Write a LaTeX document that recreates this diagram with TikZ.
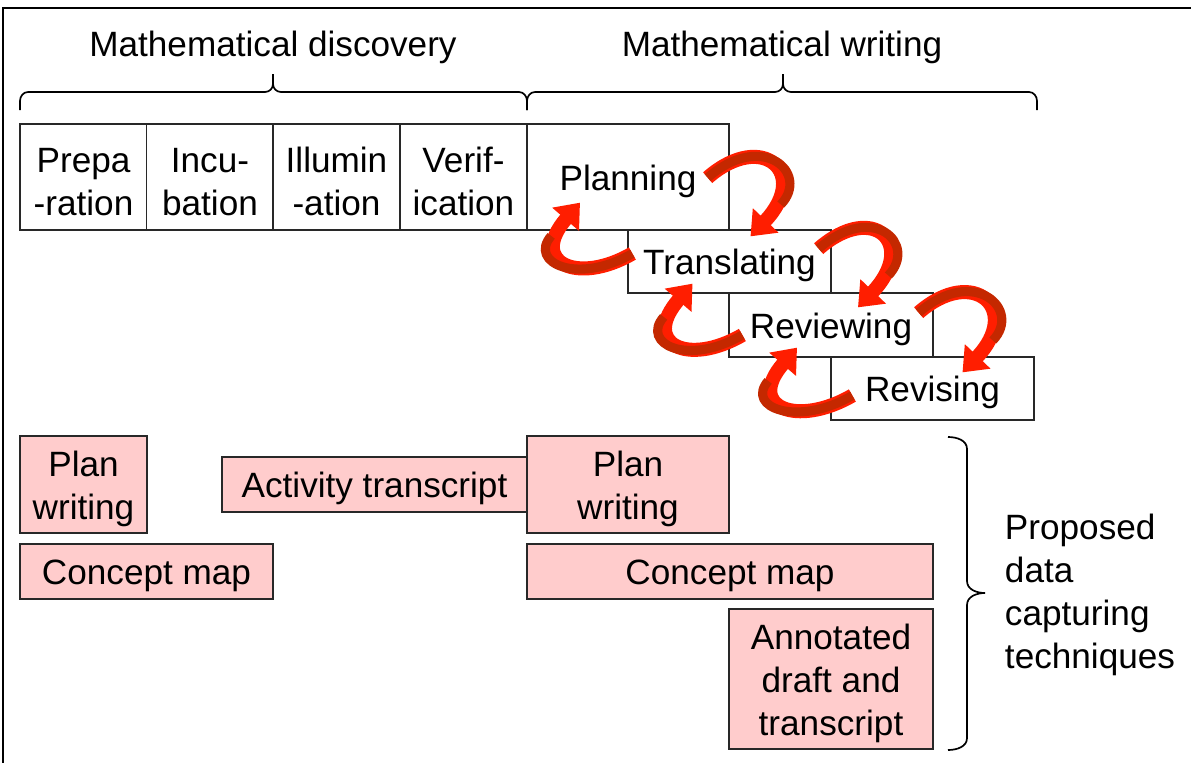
\documentclass[tikz,border=0pt]{standalone}
\usepackage{fontspec}
\setmainfont{Liberation Sans}
\usetikzlibrary{arrows.meta, calc}
\definecolor{boxline}{RGB}{40,40,40}
\definecolor{techpink}{RGB}{255,204,204}
\definecolor{arrowred}{RGB}{255,30,0}
\definecolor{arrowdark}{RGB}{196,40,0}
\newcommand{\labelfont}{\fontsize{25}{30.5}\selectfont}
\newcommand{\toprule}{\rule{0pt}{24pt}}
\tikzset{
  stage/.style={rectangle, draw=boxline, fill=white, line width=0.9pt,
    inner sep=0pt, align=center, font=\labelfont},
  technique/.style={stage, fill=techpink},
  heading/.style={font=\labelfont},
  bracket/.style={line width=1.2pt, color=black},
  loopback/.style={-{Triangle[width=0.85cm,length=0.55cm]}, line width=10pt,
    color=arrowred,
    postaction={draw=arrowdark, line width=6.5pt, shorten >=1.1cm, -}}
}
\begin{document}
\begin{tikzpicture}[x=0.025cm, y=-0.025cm]
  \useasboundingbox (0,0) rectangle (1191,763);
  % outer frame
  \draw[line width=1.5pt] (3,763) -- (3,8) -- (1191,8);

  % Headings and braces
  \node[heading] (disc) at (273,43) {\toprule Mathematical discovery};
  \node[heading] (writ) at (782,43) {\toprule Mathematical writing};
  \foreach \l/\m/\r in {20/273/527, 527/783/1037} {
    \draw[bracket] (\l,110) -- (\l,101) to[out=90,in=180] (\l+8,92) -- (\m-8,92)
      to[out=0,in=-90] (\m,84) -- (\m,74);
    \draw[bracket] (\m,84) to[out=-90,in=180] (\m+8,92) -- (\r-8,92)
      to[out=0,in=90] (\r,101) -- (\r,110);
  }

  % Discovery stages
  \foreach \n/\x/\t in {prep/83.5/{Prepa\\-ration}, incu/210/{Incu-\\bation},
      illu/336.5/{Illumin\\-ation}, verif/463.5/{Verif-\\ication}} {
    \node[stage, minimum width=3.175cm, minimum height=2.65cm] (\n) at (\x,177) {\toprule\t};
  }

  % Writing stages
  \node[stage, minimum width=5.05cm, minimum height=2.65cm] (plan) at (628,177) {\toprule Planning};
  \node[stage, minimum width=5.075cm, minimum height=1.575cm] (trans) at (729.5,261.5) {\toprule Translating};
  \node[stage, minimum width=5.1cm, minimum height=1.6cm] (review) at (831,325) {\toprule Reviewing};
  \node[stage, minimum width=5.075cm, minimum height=1.575cm] (revise) at (932.5,388.5) {\toprule Revising};

  % Data capturing techniques
  \node[technique, minimum width=3.175cm, minimum height=2.425cm] (planA) at (83.5,484.5) {\toprule Plan\\writing};
  \node[technique, minimum width=7.625cm, minimum height=1.375cm] (activity) at (374.5,484.5) {\toprule Activity transcript};
  \node[technique, minimum width=5.05cm, minimum height=2.425cm] (planB) at (628,484.5) {\toprule Plan\\writing};
  \node[technique, minimum width=6.325cm, minimum height=1.375cm] (conceptA) at (146.5,571.5) {\toprule Concept map};
  \node[technique, minimum width=10.15cm, minimum height=1.375cm] (conceptB) at (730,571.5) {\toprule Concept map};
  \node[technique, minimum width=5.1cm, minimum height=3.5cm] (annot) at (831,679) {\toprule Annotated\\draft and\\transcript};

  \draw[bracket] (948,437) to[out=0,in=90] (967,449) -- (967,581)
    to[out=-90,in=180] (985,593) to[out=180,in=90] (967,605) -- (967,738)
    to[out=-90,in=0] (948,750);
  \node[heading, align=left, anchor=west] (proposed) at (1000,591) {\toprule Proposed\\data\\capturing\\techniques};

  % Loops between writing stages
  \foreach \a/\b/\s/\t in {plan/trans/{-22,-53}/{21,7}, trans/review/{-13,-45}/{27,15},
      review/revise/{-15,-45}/{30,16}} {
    \draw[loopback] ($(\a.south east)+(\s)$) .. controls +(55,-48) and +(60,-63) .. ($(\b.north)+(\t)$);
  }
  \foreach \a/\b/\s/\t in {trans/plan/{5,-8}/{-48,-28}, review/trans/{14,10}/{-37,-10},
      revise/review/{22,7}/{-34,-10}} {
    \draw[loopback] ($(\a.west)+(\s)$) .. controls +(-55,32) and +(-52,60) .. ($(\b.south)+(\t)$);
  }
\end{tikzpicture}
\end{document}
